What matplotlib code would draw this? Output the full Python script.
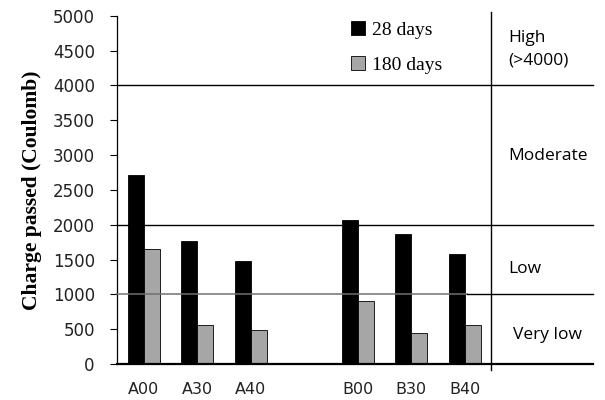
import numpy as np
import matplotlib
matplotlib.use("Agg")
import matplotlib.pyplot as plt

# data
mixes = ["A00", "A30", "A40", "B00", "B30", "B40"]
mix_pos = [0, 1, 2, 4, 5, 6]
days28 = [2720, 1760, 1485, 2070, 1870, 1575]
days180 = [1645, 560, 485, 910, 450, 560]
yticks = [0, 500, 1000, 1500, 2000, 2500, 3000, 3500, 4000, 4500, 5000]
limits = [1000, 2000, 4000]
zones = ["High\n(>4000)", "Moderate", "Low", "Very low"]
zone_y = [4520, 2990, 1370, 420]

fig = plt.figure(figsize=(6.05, 4), dpi=100)
ax = fig.add_axes([117/605, 36/400, (593-117)/605, 348.3/400])

x = np.array(mix_pos)
w = 0.3
ax.bar(x - w/2, days28, w, color="black", edgecolor="black", linewidth=0.6,
       label="28 days", zorder=2)
ax.bar(x + w/2, days180, w, color="#a6a6a6", edgecolor="black", linewidth=0.6,
       label="180 days", zorder=2)

# class limit lines
for lim in limits:
    if lim == 1000:
        ax.plot([-0.5, 6.05], [lim, lim], color="#707070", lw=1.1, zorder=3, clip_on=False)
        ax.plot([6.05, 8.4], [lim, lim], color="black", lw=1.0, zorder=3, clip_on=False)
    else:
        ax.plot([-0.5, 8.4], [lim, lim], color="black", lw=1.0, zorder=3, clip_on=False)
ax.plot([6.5, 6.5], [-80, 5050], color="black", lw=1.0, zorder=3, clip_on=False)

# zone labels
for lab, yy in zip(zones, zone_y):
    xx = 6.9 if lab == "Very low" else 6.81
    ax.text(xx, yy, lab, fontsize=12.5, family="Open Sans", va="center", ha="left",
            linespacing=1.5)

ax.set_xlim(-0.5, 8.4)
ax.set_ylim(0, 5000)
ax.set_yticks(yticks)
ax.set_xticks(mix_pos)
ax.set_xticklabels(mixes)
ax.tick_params(axis="x", length=0, pad=13, labelsize=11.5)
ax.tick_params(axis="y", direction="out", length=5, width=0.8, labelsize=12, pad=11)
for lab in ax.get_xticklabels() + ax.get_yticklabels():
    lab.set_family("DejaVu Sans")
    lab.set_color("#222222")

ax.spines["top"].set_visible(False)
ax.spines["right"].set_visible(False)
ax.spines["left"].set_linewidth(0.9)
ax.spines["bottom"].set_linewidth(1.6)

ax.set_ylabel("Charge passed (Coulomb)", family="Liberation Serif", fontweight="bold",
              fontsize=15.5, labelpad=8)

ax.legend(loc="upper left", bbox_to_anchor=(0.455, 1.035), frameon=False,
          handlelength=0.7, handleheight=0.7, handletextpad=0.4, labelspacing=0.9,
          prop={"family": "Liberation Serif", "size": 14})

fig.savefig("out.png", dpi=100)
